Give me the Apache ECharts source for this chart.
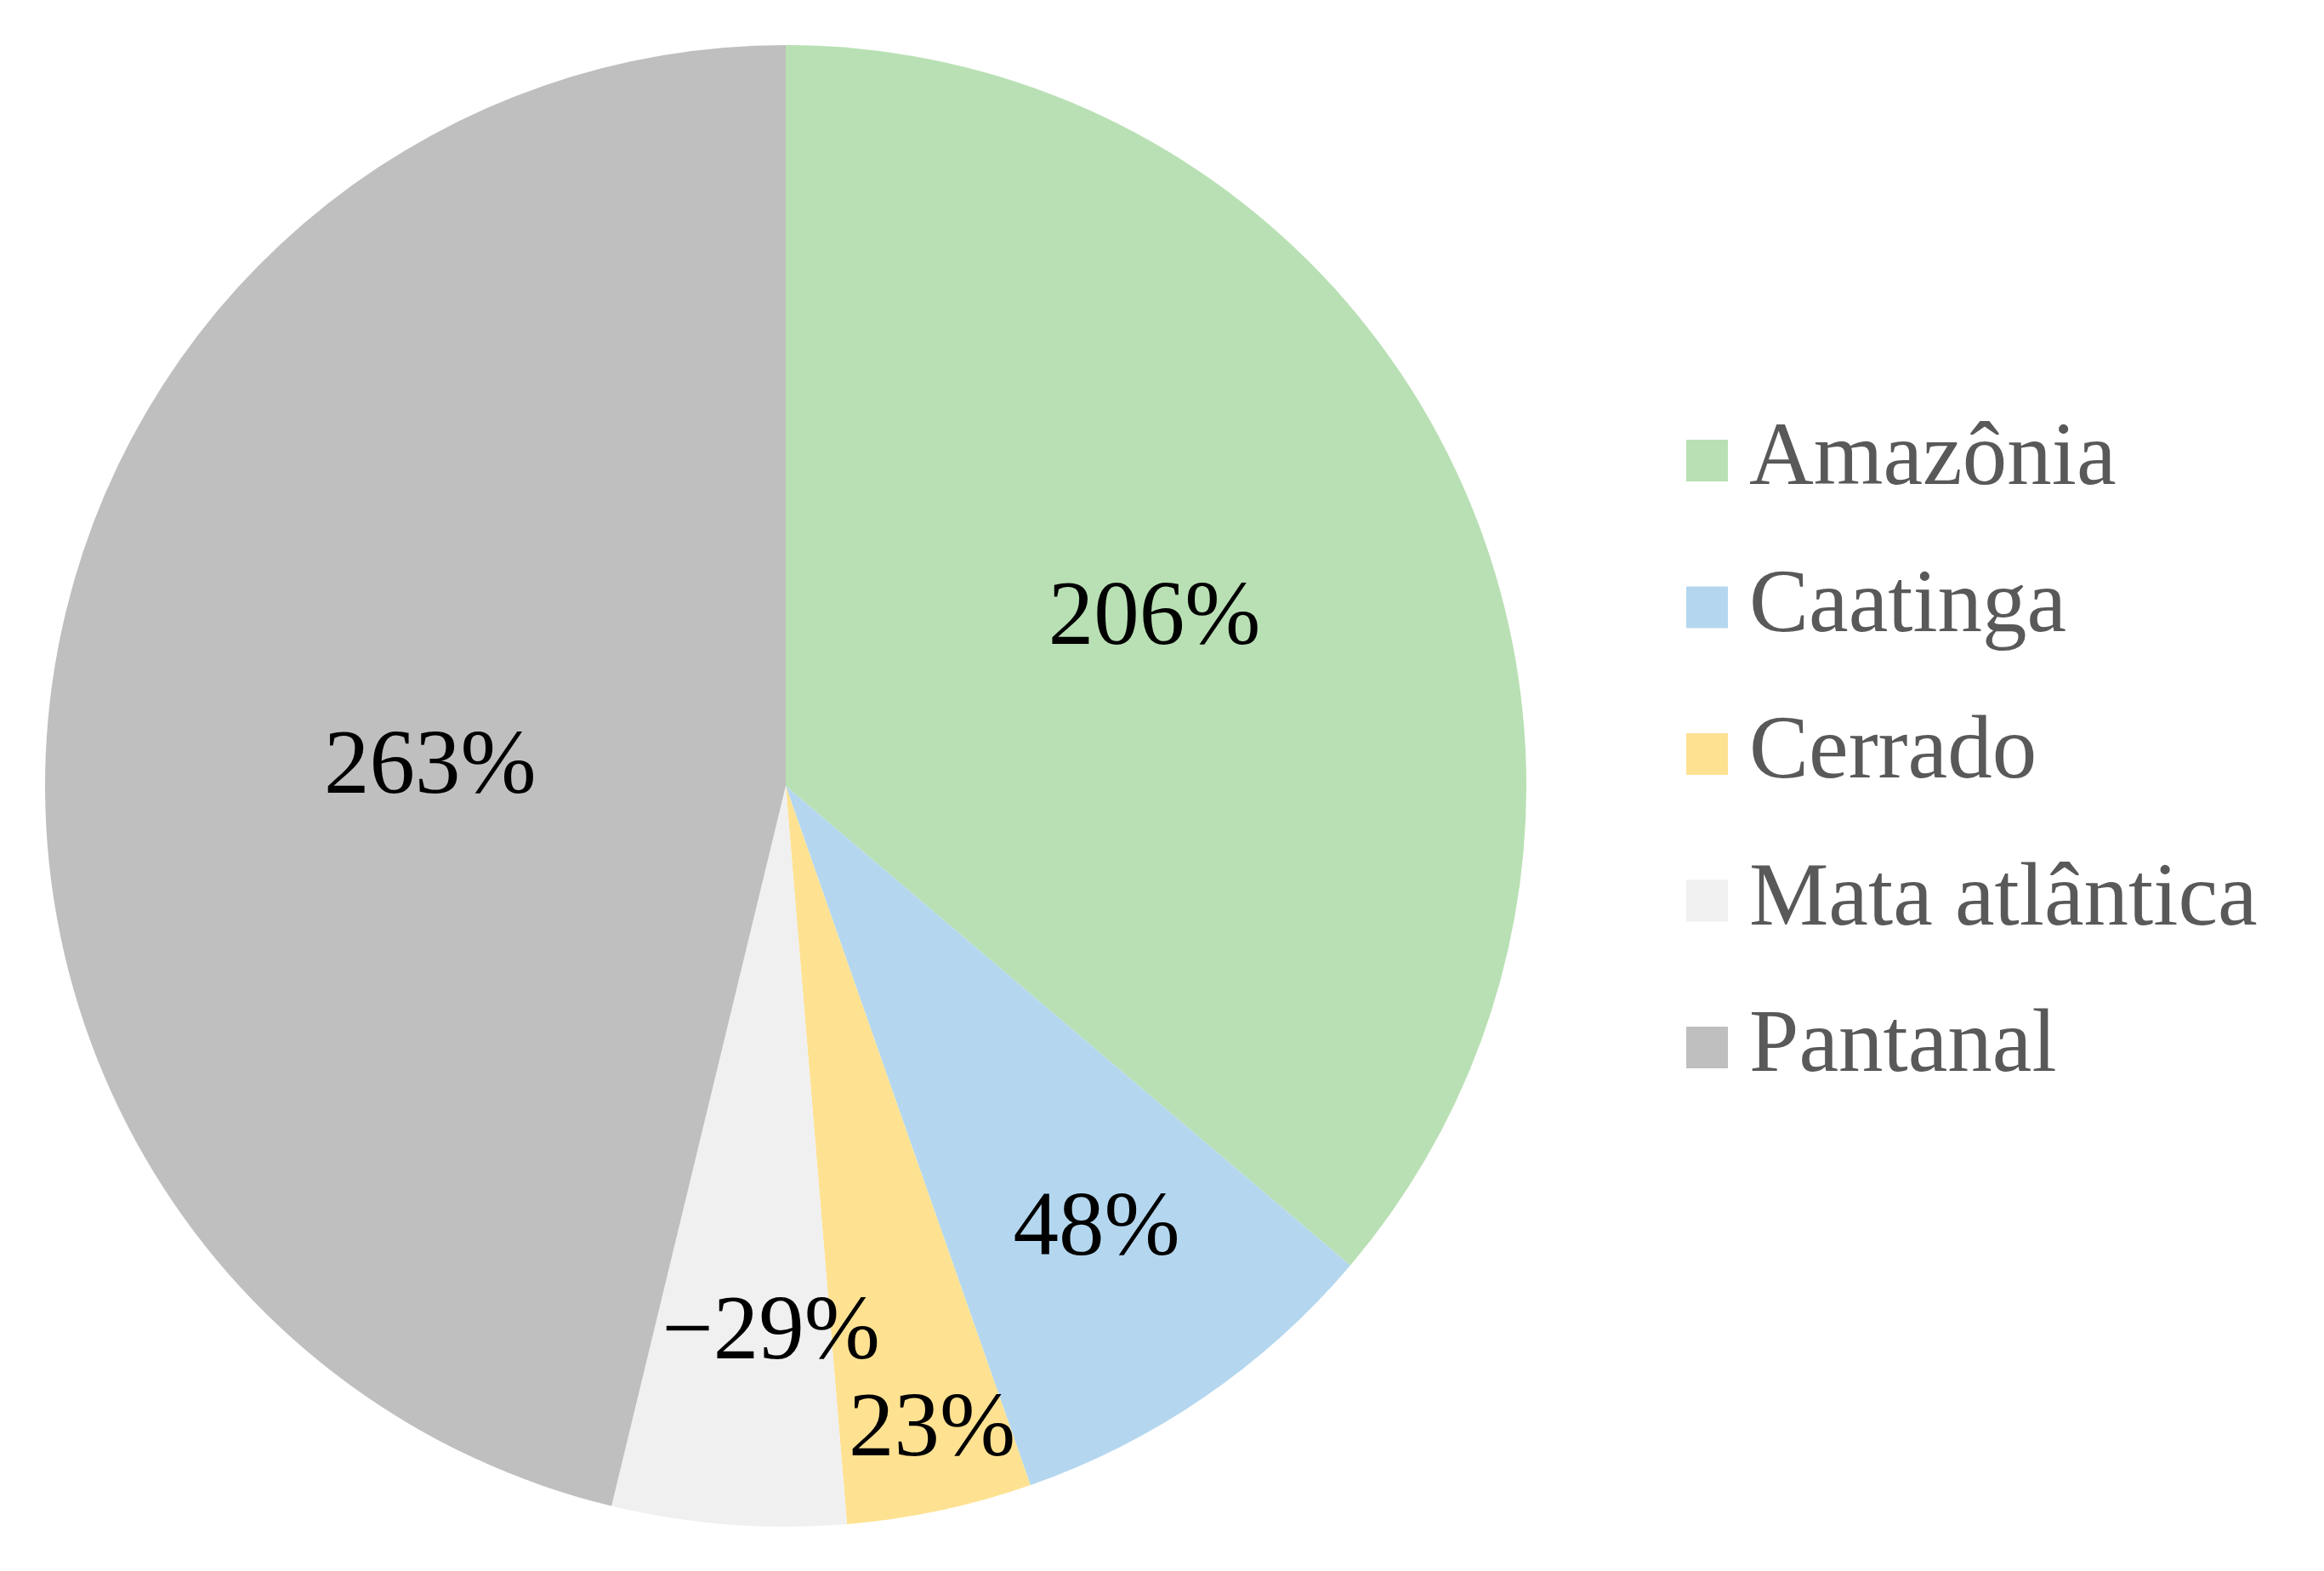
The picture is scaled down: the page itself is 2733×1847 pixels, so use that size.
<!DOCTYPE html>
<html>
<head>
<meta charset="utf-8">
<script src="https://cdn.jsdelivr.net/npm/echarts@6/dist/echarts.min.js"></script>
<style>
html,body{margin:0;padding:0;background:#fff;}
#chart{width:2733px;height:1847px;}
</style>
</head>
<body>
<div id="chart"></div>
<script>
// Data
const categories = ['Amazônia', 'Caatinga', 'Cerrado', 'Mata atlântica', 'Pantanal'];
const changes = [206, 48, 23, -29, 263];

// Styles / layout
const palette = ['#b9e0b4', '#b4d7ef', '#fee292', '#f0f0f0', '#bfbfbf'];
const labelFraction = [0.545, 0.73, 0.89, 0.73, 0.48];
const labelOffset = [[0, 6], [4, -4], [10, -2], [32, 8], [0, 30]];
const CX = 924, CY = 924, R = 871;
const FONT = '"Liberation Serif", "Times New Roman", serif';

function fmt(v) { return (v < 0 ? '\u2212' + Math.abs(v) : String(v)) + '%'; }

const chart = echarts.init(document.getElementById('chart'), null, {renderer: 'canvas'});

const baseData = categories.map((c, i) => ({
  name: c,
  value: Math.abs(changes[i]),
  itemStyle: {color: palette[i]}
}));

const series = [{
  type: 'pie',
  center: [CX, CY],
  radius: [0, R],
  startAngle: 90,
  clockwise: true,
  avoidLabelOverlap: false,
  label: {show: false},
  labelLine: {show: false},
  itemStyle: {borderWidth: 0},
  emphasis: {disabled: true},
  data: baseData
}];

categories.forEach((c, k) => {
  const f = labelFraction[k];
  const radius = f < 0.5 ? [0, 2 * f * R] : [(2 * f - 1) * R, R];
  series.push({
    type: 'pie',
    center: [CX, CY],
    radius: radius,
    startAngle: 90,
    clockwise: true,
    silent: true,
    avoidLabelOverlap: false,
    emphasis: {disabled: true},
    labelLine: {show: false},
    itemStyle: {color: 'rgba(0,0,0,0)', borderWidth: 0},
    label: {
      show: true,
      position: 'inside',
      formatter: (p) => fmt(changes[p.dataIndex]),
      fontFamily: FONT,
      fontSize: 107,
      color: '#000',
      offset: labelOffset[k]
    },
    data: categories.map((n, i) => ({
      name: n,
      value: Math.abs(changes[i]),
      label: {show: i === k}
    }))
  });
});

chart.setOption({
  animation: false,
  backgroundColor: '#fff',
  legend: {
    orient: 'vertical',
    left: 1978,
    top: 484,
    data: categories,
    icon: 'rect',
    itemWidth: 49,
    itemHeight: 49,
    itemGap: 67.5,
    selectedMode: false,
    textStyle: {
      fontFamily: FONT,
      fontSize: 105,
      lineHeight: 100,
      color: '#595959',
      padding: [0, 0, 0, 20]
    }
  },
  series: series
});
</script>
</body>
</html>
